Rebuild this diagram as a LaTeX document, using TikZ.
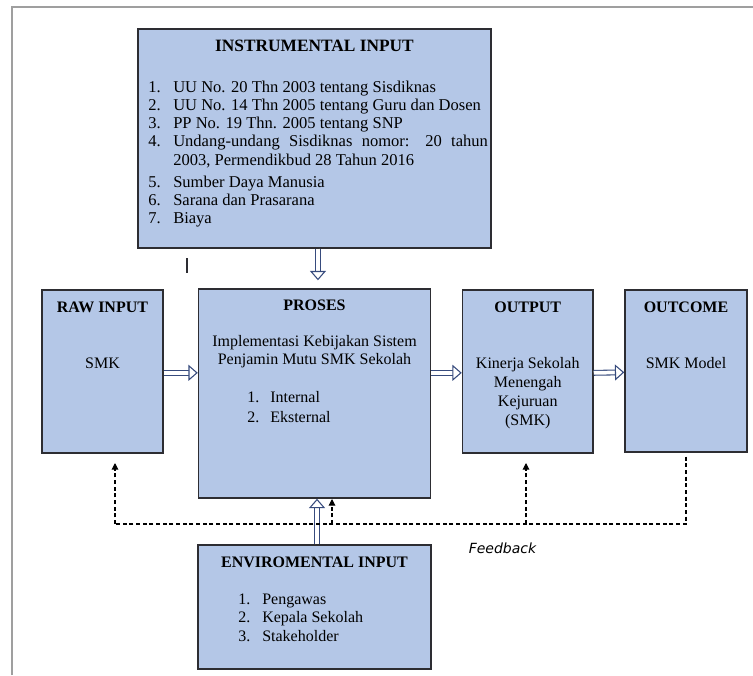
\documentclass[tikz,border=0pt]{standalone}
\usepackage{fontspec}
\setmainfont{Liberation Serif}
\newfontfamily\fbfont{DejaVu Sans}
\usepackage{tikz}
\usetikzlibrary{arrows.meta,positioning}
\definecolor{boxfill}{RGB}{180,199,231}
\definecolor{boxline}{RGB}{45,45,50}
\definecolor{flowblue}{RGB}{55,75,125}
\tikzset{
    box/.style={
        rectangle,
        draw=boxline, line width=1.1pt,
        fill=boxfill,
        inner sep=0pt
    },
    head/.style={anchor=base, inner sep=0pt, font=\fontsize{12pt}{14pt}\selectfont\bfseries},
    txt/.style={anchor=base, inner sep=0pt, font=\fontsize{12pt}{14.25pt}\selectfont},
    items/.style={anchor=base west, inner sep=0pt, font=\fontsize{12pt}{13.7pt}\selectfont},
    flow/.style={draw=flowblue, line width=0.8pt, double=white, double distance=2.8pt,
        -{Triangle[open, fill=white, length=7pt, width=12pt, line width=0.8pt]}},
    fb/.style={draw=black, line width=0.8pt, dash pattern=on 3pt off 2pt},
    fbarrow/.style={fb, -{Triangle[length=5pt,width=5pt]}},
}

\begin{document}
\begin{tikzpicture}[x=0.75pt, y=-0.75pt]
\useasboundingbox (0,0) rectangle (753,675);
% page frame
\draw[gray!75, line width=1pt] (12,675) -- (12,7) -- (753,7);

% instrumental input
\node[box, minimum width=264.75pt, minimum height=164.25pt] (instr) at (314.5,138.5) {};
\node[head, font=\fontsize{13pt}{15pt}\selectfont\bfseries] (instrtitle) at (314.5,51) {INSTRUMENTAL INPUT};
\node[items, font=\fontsize{12.4pt}{13.7pt}\selectfont] (instrlist) at (148,92) {%
    \begin{tabular}[t]{@{}p{18.75pt}@{}p{236pt}@{}}
    1. & UU No. 20 Thn 2003 tentang Sisdiknas\\
    2. & UU No. 14 Thn 2005 tentang Guru dan Dosen\\
    3. & PP No. 19 Thn. 2005 tentang SNP\\
    4. & Undang-undang Sisdiknas nomor: 20 tahun\linebreak 2003, Permendikbud 28 Tahun 2016\\[3pt]
    5. & Sumber Daya Manusia\\
    6. & Sarana dan Prasarana\\
    7. & Biaya
    \end{tabular}};
\draw[boxline, line width=0.8pt] (187,258) -- (187,273);

% raw input
\node[box, minimum width=90.75pt, minimum height=122.25pt] (raw) at (102.5,371.5) {};
\node[head] (rawtitle) at (102.5,312) {RAW INPUT};
\node[txt] (rawtext) at (102.5,368) {SMK};

% proses
\node[box, minimum width=174pt, minimum height=156.75pt] (proses) at (314.5,393.5) {};
\node[head] (prosestitle) at (314.5,310) {PROSES};
\node[txt, font=\fontsize{12pt}{13.5pt}\selectfont] (prosestext) at (314.5,346) {%
    \begin{tabular}[t]{@{}c@{}}Implementasi Kebijakan Sistem\\Penjamin Mutu SMK Sekolah\end{tabular}};
\node[items, font=\fontsize{12pt}{15pt}\selectfont] (proseslist) at (247,402) {%
    \begin{tabular}[t]{@{}p{17.25pt}@{}l@{}}1. & Internal\\2. & Eksternal\end{tabular}};

% output
\node[box, minimum width=97.9pt, minimum height=122.25pt] (output) at (527.75,371.5) {};
\node[head] (outputtitle) at (527.75,312) {OUTPUT};
\node[txt] (outputtext) at (527.75,368) {%
    \begin{tabular}[t]{@{}c@{}}Kinerja Sekolah\\Menengah\\Kejuruan\\(SMK)\end{tabular}};

% outcome
\node[box, minimum width=91.5pt, minimum height=121.5pt] (outcome) at (686,371) {};
\node[head] (outcometitle) at (686,312) {OUTCOME};
\node[txt] (outcometext) at (686,368) {SMK Model};

% enviromental input
\node[box, minimum width=174.75pt, minimum height=93pt] (env) at (314.5,607) {};
\node[head] (envtitle) at (314.5,567) {ENVIROMENTAL INPUT};
\node[items, font=\fontsize{12pt}{13.9pt}\selectfont] (envlist) at (238,604) {%
    \begin{tabular}[t]{@{}p{18pt}@{}l@{}}1. & Pengawas\\2. & Kepala Sekolah\\3. & Stakeholder\end{tabular}};

% flow arrows
\draw[flow, shorten >=6pt] ([xshift=2.6pt]instr.south) -- ([xshift=2.6pt]instr.south |- proses.north);
\draw[flow] ([yshift=-1pt]raw.east) -- ([yshift=-1pt]raw.east -| proses.west);
\draw[flow] ([yshift=-1pt]proses.east |- output.west) -- ([yshift=-1pt]output.west);
\draw[flow] ([yshift=-1pt]output.east) -- ([yshift=-1pt]outcome.west);
\draw[flow] ([xshift=1.9pt]env.north) -- ([xshift=1.9pt]env.north |- proses.south);

% feedback
\coordinate (fbL) at (115,524);
\coordinate (fbraw) at (115,463);
\coordinate (fbproses) at (332,499);
\coordinate (fbout) at (526,463);
\draw[fb, shorten <=3pt] (outcome.south) |- (fbL);
\draw[fbarrow] (fbL) -- (fbraw);
\draw[fbarrow] (fbproses |- fbL) -- (fbproses);
\draw[fbarrow] (fbout |- fbL) -- (fbout);
\node[anchor=base, inner sep=0pt, font=\fbfont\itshape\fontsize{10.5pt}{12pt}\selectfont] (fbtext) at (502.5,553) {Feedback};
\end{tikzpicture}
\end{document}
